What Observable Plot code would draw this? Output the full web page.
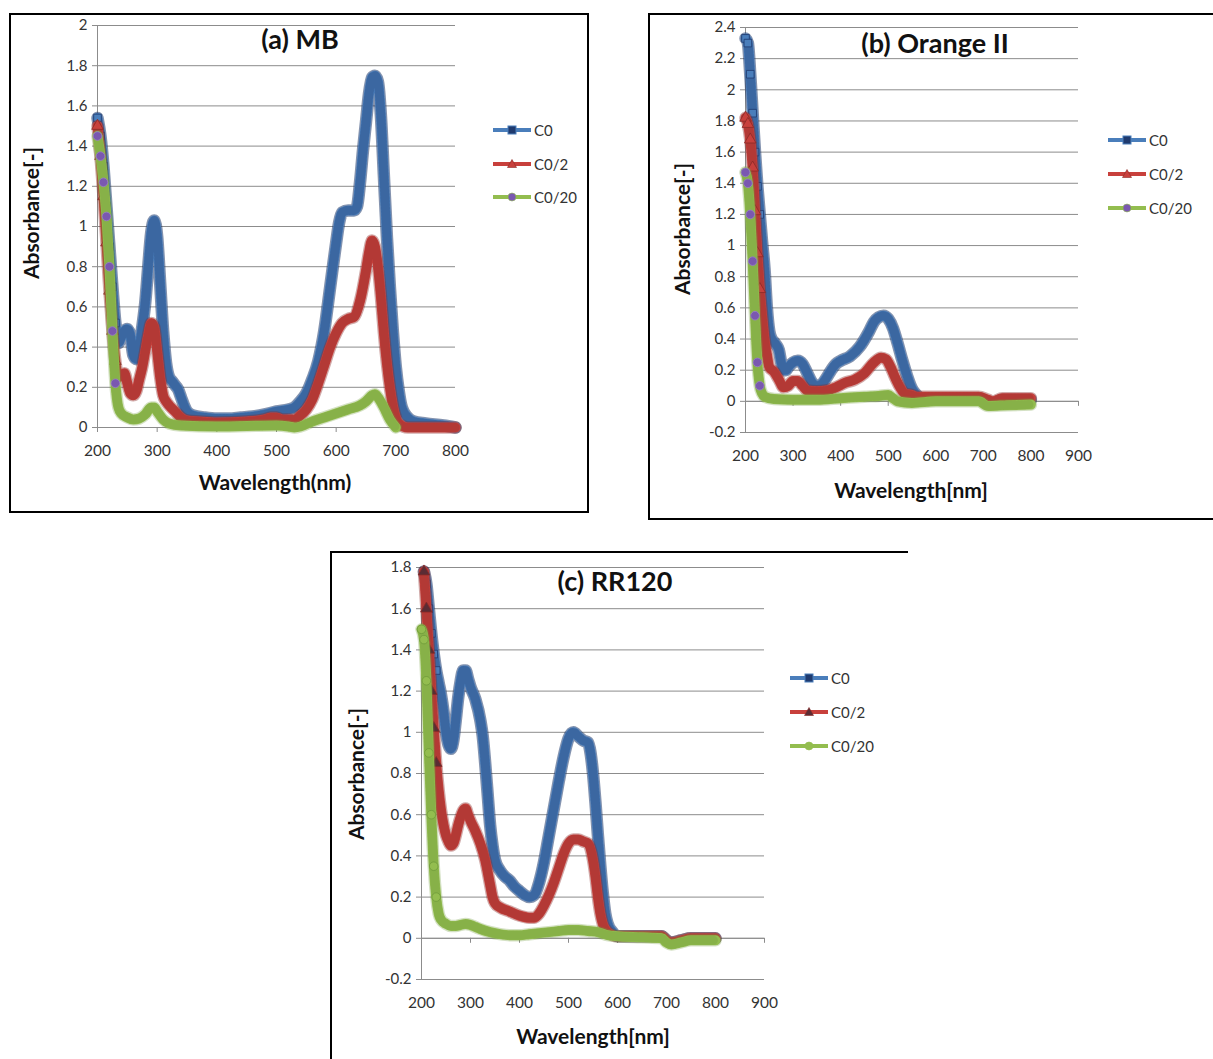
<!DOCTYPE html>
<html><head><meta charset="utf-8">
<script src="https://cdn.jsdelivr.net/npm/d3@7"></script>
<script src="https://cdn.jsdelivr.net/npm/@observablehq/plot@0.6"></script>
<style>
html,body{margin:0;padding:0;background:#fff;}
body{position:relative;width:1213px;height:1059px;overflow:hidden;font-family:Lato,"Open Sans",sans-serif;color:#222;}
.box{position:absolute;border:2px solid #000;box-sizing:border-box;}
.title{position:absolute;font-weight:bold;font-size:27px;transform:translate(-50%,-50%);white-space:nowrap;color:#111;}
.xt{position:absolute;font-weight:bold;font-size:21px;transform:translate(-50%,-50%);white-space:nowrap;color:#111;}
.yt{position:absolute;font-weight:bold;font-size:21px;transform:translate(-50%,-50%) rotate(-90deg);white-space:nowrap;color:#111;}
.leg{position:absolute;display:flex;align-items:center;font-size:15px;color:#333;transform:translateY(-50%);white-space:nowrap;}
.leg svg{margin-right:3px;}
</style></head>
<body>
<script>
// ---------- categories / ticks ----------
const seriesNames = ["C0", "C0/2", "C0/20"];
const mbXTicks = [200, 300, 400, 500, 600, 700, 800];
const mbYTicks = [0, 0.2, 0.4, 0.6, 0.8, 1, 1.2, 1.4, 1.6, 1.8, 2];
const orXTicks = [200, 300, 400, 500, 600, 700, 800, 900];
const orYTicks = [-0.2, 0, 0.2, 0.4, 0.6, 0.8, 1, 1.2, 1.4, 1.6, 1.8, 2, 2.2, 2.4];
const rrXTicks = [200, 300, 400, 500, 600, 700, 800, 900];
const rrYTicks = [-0.2, 0, 0.2, 0.4, 0.6, 0.8, 1, 1.2, 1.4, 1.6, 1.8];

// ---------- (a) MB ----------
const mbC0_wl = [200,205,210,215,220,225,230,235,240,245,250,255,260,265,270,275,280,285,290,295,300,305,310,315,320,325,330,335,340,345,350,360,380,400,420,440,460,480,500,520,530,540,550,560,570,580,590,600,605,610,620,630,635,640,645,650,655,660,665,670,675,680,685,690,695,700,705,710,720,730,750,780,800];
const mbC0 = [1.54,1.45,1.3,1.1,0.9,0.7,0.52,0.42,0.45,0.48,0.49,0.46,0.36,0.34,0.4,0.5,0.62,0.8,0.97,1.03,0.95,0.72,0.48,0.32,0.25,0.23,0.21,0.19,0.15,0.11,0.08,0.06,0.05,0.045,0.045,0.05,0.055,0.065,0.08,0.09,0.1,0.13,0.17,0.24,0.33,0.48,0.7,0.92,1.02,1.07,1.08,1.08,1.1,1.22,1.38,1.52,1.66,1.74,1.75,1.72,1.55,1.25,0.95,0.7,0.48,0.3,0.18,0.1,0.05,0.03,0.02,0.01,0.0];
const mbC02_wl = [200,205,210,215,220,225,230,235,240,245,250,255,260,265,270,275,280,285,290,295,300,305,310,315,320,330,340,350,370,400,450,480,490,500,510,530,540,550,560,570,580,590,600,610,620,630,640,650,655,660,665,670,675,680,685,690,695,700,705,720,800];
const mbC02 = [1.5,1.35,1.15,0.92,0.68,0.48,0.33,0.25,0.26,0.27,0.22,0.17,0.16,0.18,0.24,0.3,0.38,0.46,0.52,0.5,0.38,0.25,0.16,0.13,0.11,0.08,0.05,0.035,0.03,0.025,0.03,0.04,0.05,0.05,0.04,0.04,0.06,0.09,0.14,0.22,0.31,0.4,0.47,0.52,0.54,0.55,0.63,0.78,0.87,0.93,0.9,0.8,0.65,0.47,0.32,0.2,0.11,0.05,0.02,0.0,0.0];
const mbC020_wl = [200,205,210,215,220,225,230,235,240,250,260,270,280,290,295,300,310,320,340,400,500,520,530,540,560,580,600,620,640,650,660,665,670,680,690,700];
const mbC020 = [1.45,1.35,1.22,1.05,0.8,0.48,0.22,0.1,0.07,0.05,0.04,0.045,0.065,0.1,0.1,0.08,0.04,0.02,0.01,0.005,0.01,0.005,0.0,0.005,0.03,0.05,0.07,0.09,0.11,0.13,0.16,0.165,0.15,0.1,0.04,0.0];

// ---------- (b) Orange II ----------
const orC0_wl = [200,205,210,215,220,225,230,235,240,245,250,255,260,265,270,275,280,285,290,300,310,320,330,340,350,360,370,380,390,400,420,440,460,470,480,490,500,510,520,530,540,550,560,570,600,650,690,700,720,740,800];
const orC0 = [2.33,2.3,2.1,1.85,1.6,1.38,1.2,1.02,0.85,0.6,0.45,0.4,0.38,0.36,0.33,0.25,0.2,0.2,0.22,0.25,0.26,0.24,0.18,0.12,0.1,0.11,0.15,0.2,0.24,0.26,0.29,0.35,0.45,0.51,0.54,0.55,0.53,0.47,0.37,0.26,0.16,0.08,0.04,0.02,0.02,0.02,0.02,0.0,-0.01,0.01,0.01];
const orC02_wl = [200,205,210,215,220,225,230,235,240,245,250,260,270,280,290,300,310,320,330,350,370,390,410,430,450,470,485,495,505,515,525,535,550,560,600,650,690,710,720,740,800];
const orC02 = [1.82,1.78,1.68,1.5,1.22,0.95,0.72,0.55,0.4,0.3,0.22,0.19,0.14,0.09,0.1,0.13,0.13,0.1,0.07,0.065,0.07,0.09,0.12,0.14,0.18,0.25,0.28,0.27,0.22,0.15,0.09,0.05,0.04,0.03,0.03,0.03,0.03,0.01,0.0,0.02,0.02];
const orC020_wl = [200,205,210,215,220,225,230,235,240,260,300,350,400,450,480,500,510,520,550,600,690,710,750,800];
const orC020 = [1.47,1.4,1.2,0.9,0.55,0.25,0.1,0.05,0.03,0.015,0.01,0.01,0.02,0.03,0.035,0.04,0.02,0.0,-0.01,0.0,0.0,-0.03,-0.025,-0.02];

// ---------- (c) RR120 ----------
const rrC0_wl = [205,210,215,220,225,230,235,240,245,250,255,260,265,270,275,280,285,290,295,300,310,320,325,330,335,340,345,350,360,370,380,390,400,410,420,430,440,450,460,470,480,490,500,510,520,530,540,545,550,555,560,565,570,575,580,590,600,650,690,700,710,730,750,800];
const rrC0 = [1.78,1.72,1.6,1.48,1.38,1.3,1.24,1.18,1.1,1.0,0.94,0.92,0.96,1.06,1.17,1.25,1.3,1.3,1.26,1.22,1.16,1.06,0.98,0.85,0.7,0.55,0.45,0.38,0.33,0.3,0.28,0.25,0.23,0.21,0.2,0.21,0.27,0.37,0.5,0.63,0.76,0.88,0.97,1.0,0.98,0.96,0.95,0.9,0.8,0.66,0.5,0.35,0.22,0.12,0.07,0.03,0.01,0.01,0.01,-0.01,-0.02,-0.01,0.0,0.0];
const rrC02_wl = [205,210,215,220,225,230,235,240,245,250,255,260,265,270,275,280,285,290,295,300,310,320,330,340,345,350,360,380,400,420,430,440,450,460,470,480,490,500,510,520,530,540,550,555,560,565,570,580,590,600,690,700,710,730,750,800];
const rrC02 = [1.78,1.6,1.4,1.2,1.02,0.85,0.72,0.62,0.55,0.5,0.47,0.45,0.46,0.5,0.55,0.59,0.62,0.63,0.6,0.57,0.52,0.46,0.38,0.26,0.2,0.17,0.15,0.13,0.11,0.1,0.1,0.12,0.16,0.21,0.27,0.34,0.41,0.46,0.48,0.48,0.47,0.46,0.38,0.3,0.2,0.12,0.07,0.03,0.015,0.01,0.01,-0.01,-0.02,-0.01,0.0,0.0];
const rrC020_wl = [200,205,210,215,220,225,230,235,240,250,260,270,280,290,300,310,320,340,360,380,400,420,440,460,480,500,520,540,560,580,600,650,690,700,710,730,750,800];
const rrC020 = [1.5,1.45,1.25,0.9,0.6,0.35,0.2,0.12,0.09,0.07,0.06,0.06,0.065,0.07,0.065,0.055,0.045,0.03,0.02,0.015,0.015,0.02,0.025,0.03,0.035,0.04,0.04,0.035,0.03,0.015,0.01,0.005,0.0,-0.02,-0.03,-0.02,-0.01,-0.01];

// ---------- styles ----------
const BLUE = "#4a7ebb", NAVY = "#1f3a6e";
const RED = "#c8403c", DRED = "#8a2a27";
const GREEN = "#93bd4f", DGREEN = "#6f9a3a";
const PURPLE = "#7a58b0";
const GRID = "#8c8c8c";
const FONT = 'Lato, "Open Sans", sans-serif';

function rows(wl, ab) { return wl.map((w, i) => ({wl: w, a: ab[i]})); }

function seriesMarks(d, color, dark, edgeOp, symbol, mfill, mstroke) {
  return [
    Plot.line(d, {x: "wl", y: "a", stroke: dark, strokeOpacity: edgeOp, strokeWidth: 12.5, curve: "monotone-x", strokeLinejoin: "round", strokeLinecap: "round"}),
    Plot.line(d, {x: "wl", y: "a", stroke: color, strokeWidth: 10, curve: "monotone-x", strokeLinejoin: "round", strokeLinecap: "round"}),
    Plot.line(d, {x: "wl", y: "a", stroke: dark, strokeWidth: 9, strokeOpacity: 0.33, strokeDasharray: "1 2.5", curve: "monotone-x"}),
    Plot.dot(d, {filter: r => r.wl <= 232, x: "wl", y: "a", symbol, r: 4.3, fill: mfill, stroke: mstroke, strokeWidth: 0.8})
  ];
}

function panel(p) {
  const fmt = d => String(Math.round(d * 10) / 10);
  const marks = [
    Plot.gridY(p.yTicks, {stroke: GRID, strokeOpacity: 1, strokeWidth: 1}),
    Plot.ruleX([200], {stroke: GRID, strokeWidth: 1}),
    Plot.ruleY([0], {stroke: GRID, strokeWidth: 1}),
    Plot.ruleX(p.xTicks, {y1: 0, y2: 0, insetBottom: -5, stroke: GRID, strokeWidth: 1}),
    Plot.axisY(p.yTicks, {tickSize: 5, tickPadding: 5, stroke: GRID, fill: "#333", fontSize: 15, tickFormat: fmt, label: null}),
    Plot.axisX(p.xTicks, {tickSize: 0, tickPadding: 17, fill: "#333", fontSize: 15.5, tickFormat: d => String(d), label: null}),
    ...seriesMarks(rows(p.c0wl, p.c0), BLUE, NAVY, 0.55, "square", BLUE, NAVY),
    ...seriesMarks(rows(p.c02wl, p.c02), RED, DRED, 0.4, "triangle", p.triFill, DRED),
    ...seriesMarks(rows(p.c020wl, p.c020), GREEN, DGREEN, 0.3, "circle", p.cirFill, p.cirStroke)
  ];
  const svg = Plot.plot({
    width: p.w, height: p.h,
    marginLeft: p.ml, marginRight: p.mr, marginTop: p.mt, marginBottom: p.mb,
    x: {type: "linear", domain: p.xDomain},
    y: {type: "linear", domain: p.yDomain},
    style: {fontFamily: FONT, background: "transparent", overflow: "visible", maxWidth: "none"},
    marks
  });
  svg.style.position = "absolute";
  svg.style.left = p.left + "px";
  svg.style.top = p.top + "px";
  document.body.appendChild(svg);
}

function div(cls, text, x, y) {
  const e = document.createElement("div");
  e.className = cls; e.textContent = text;
  e.style.left = x + "px"; e.style.top = y + "px";
  document.body.appendChild(e);
}
function box(l, t, w, h, sides) {
  const e = document.createElement("div");
  e.className = "box";
  e.style.left = l + "px"; e.style.top = t + "px"; e.style.width = w + "px"; e.style.height = h + "px";
  if (sides) e.style.borderWidth = sides;
  document.body.appendChild(e);
}
function legend(x, ys, cirFill, triFill) {
  const styles = [
    {c: BLUE, m: `<rect x="15" y="2" width="8" height="8" fill="${NAVY}" stroke="${BLUE}" stroke-width="1"/>`},
    {c: RED, m: `<path d="M19,1.5 L23.5,9.5 L14.5,9.5 Z" fill="${triFill}" stroke="${DRED}" stroke-width="0.6"/>`},
    {c: GREEN, m: `<circle cx="19" cy="6" r="4" fill="${cirFill}" stroke="${GREEN}" stroke-width="0.6"/>`}
  ];
  seriesNames.forEach((name, i) => {
    const e = document.createElement("div");
    e.className = "leg";
    e.style.left = x + "px"; e.style.top = ys[i] + "px";
    e.innerHTML = `<svg width="38" height="12"><line x1="0" y1="6" x2="38" y2="6" stroke="${styles[i].c}" stroke-width="4"/>${styles[i].m}</svg>`;
    e.appendChild(document.createTextNode(name));
    document.body.appendChild(e);
  });
}

// borders
box(9, 13, 580, 500);
box(648, 13, 580, 507, "2px 0 2px 2px");
box(330, 551, 578, 520, "2px 0 0 2px");

// (a)
panel({left: 10, top: 14, w: 576, h: 496, ml: 87, mr: 131, mt: 11, mb: 83,
  xDomain: [200, 800], yDomain: [0, 2], xTicks: mbXTicks, yTicks: mbYTicks,
  c0wl: mbC0_wl, c0: mbC0, c02wl: mbC02_wl, c02: mbC02, c020wl: mbC020_wl, c020: mbC020,
  triFill: RED, cirFill: PURPLE, cirStroke: "#9a7ec8"});
// (b)
panel({left: 650, top: 15, w: 563, h: 502, ml: 95, mr: 135, mt: 12, mb: 85,
  xDomain: [200, 900], yDomain: [-0.2, 2.4], xTicks: orXTicks, yTicks: orYTicks,
  c0wl: orC0_wl, c0: orC0, c02wl: orC02_wl, c02: orC02, c020wl: orC020_wl, c020: orC020,
  triFill: RED, cirFill: PURPLE, cirStroke: "#9a7ec8"});
// (c)
panel({left: 332, top: 553, w: 575, h: 506, ml: 89, mr: 143, mt: 14, mb: 80,
  xDomain: [200, 900], yDomain: [-0.2, 1.8], xTicks: rrXTicks, yTicks: rrYTicks,
  c0wl: rrC0_wl, c0: rrC0, c02wl: rrC02_wl, c02: rrC02, c020wl: rrC020_wl, c020: rrC020,
  triFill: "#5a2c34", cirFill: GREEN, cirStroke: DGREEN});

// titles & axis titles
div("title", "(a) MB", 300, 38);
div("title", "(b) Orange II", 935, 42);
div("title", "(c) RR120", 615, 580);
div("xt", "Wavelength(nm)", 275, 481);
div("xt", "Wavelength[nm]", 911, 489);
div("xt", "Wavelength[nm]", 593, 1035);
div("yt", "Absorbance[-]", 30, 213);
div("yt", "Absorbance[-]", 681, 229);
div("yt", "Absorbance[-]", 355, 774);

// legends
legend(493, [130, 164, 197], PURPLE, RED);
legend(1108, [140, 174, 208], PURPLE, RED);
legend(790, [678, 712, 746], GREEN, "#5a2c34");
</script>
</body></html>
